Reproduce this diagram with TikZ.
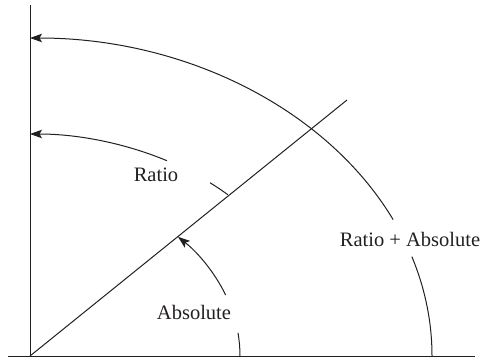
\documentclass[tikz,border=0pt]{standalone}
\usepackage{fontspec}
\setmainfont{Liberation Serif}
\usetikzlibrary{arrows.meta}
\definecolor{ink}{HTML}{231F20}
\begin{document}
\begin{tikzpicture}[x=1pt,y=1pt,
  ln/.style={line width=1pt, draw=ink},
  arr/.style={ln, -{Stealth[length=12pt,width=8.5pt,inset=2.5pt]}},
  lbl/.style={font=\fontsize{20.5}{24}\selectfont, text=ink, inner sep=0pt}]
\useasboundingbox (0,0) rectangle (484,362);
\coordinate (O) at (30,6);
\coordinate (ytop) at (30,357);
\coordinate (xl) at (8,6);
\coordinate (xr) at (475,6);
\coordinate (dend) at (347,262);
% axes and diagonal
\draw[ln] (O) -- (ytop);
\draw[ln] (xl) -- (xr);
\draw[ln] (O) -- (dend);
% Ratio + Absolute arc
\draw[ln] (O) ++(0:402 and 318) arc[start angle=0,end angle=18.2,x radius=402,y radius=318];
\draw[arr] (O) ++(25.4:402 and 318) arc[start angle=25.4,end angle=90,x radius=402,y radius=318];
% Ratio arc
\draw[arr] (O) ++(61.6:288 and 222) arc[start angle=61.6,end angle=90,x radius=288,y radius=222];
\draw[ln] (O) ++(46.6:288 and 222) arc[start angle=46.6,end angle=51.3,x radius=288,y radius=222];
% Absolute arc
\draw[ln] (O) ++(0:210 and 168) arc[start angle=0,end angle=7.9,x radius=210,y radius=168];
\draw[arr] (O) ++(21.3:210 and 168) arc[start angle=21.3,end angle=45.2,x radius=210,y radius=168];
% labels
\node[lbl] (ratio) at (156,187.5) {Ratio};
\node[lbl] (abs) at (194,49.5) {Absolute};
\node[lbl] (ra) at (410,123) {Ratio + Absolute};
\end{tikzpicture}
\end{document}
